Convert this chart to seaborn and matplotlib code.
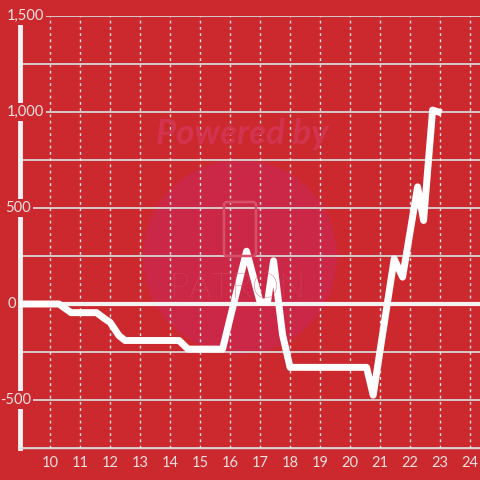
import matplotlib
matplotlib.use("Agg")
import matplotlib.pyplot as plt
import matplotlib.transforms as mtransforms
from matplotlib.patches import Circle, FancyBboxPatch
import numpy as np
import pandas as pd
import seaborn as sns

# values
hours = [9.0, 10.3, 10.7, 11.55, 11.85, 12.0, 12.3, 12.5, 14.3, 14.6, 15.75,
         16.55, 17.0, 17.25, 17.45, 17.75, 18.0, 20.55, 20.77, 21.47, 21.75,
         22.25, 22.45, 22.75, 23.05]
balance = [0, 0, -45, -45, -80, -95, -165, -190, -190, -235, -235,
           275, 10, 10, 225, -160, -330, -330, -475, 235, 140,
           610, 435, 1010, 995]
x_ticks = list(range(10, 25))
y_ticks = [1500, 1000, 500, 0, -500]
y_tick_labels = ["1,500", "1,000", "500", "0", "-500"]

bg = "#cc292e"
fg = "#f2f2f2"
W = 480.0

sns.set_style("white")
plt.rcParams["font.family"] = ["Lato", "DejaVu Sans"]

fig = plt.figure(figsize=(4.8, 4.8), dpi=100, facecolor=bg)
ax = fig.add_axes([20/W, 32/W, 460/W, 432/W])
ax.set_facecolor(bg)
ax.set_xlim(9, 24.33)
ax.set_ylim(-750, 1500)

# watermark
ax.add_patch(Circle((240/W, 1-257/W), 97/W, transform=fig.transFigure,
                    color="#cb2847", zorder=0.5, lw=0))
fig.patches.append(FancyBboxPatch((224/W, 1-256/W), 32/W, 54/W,
                                  boxstyle="round,pad=0,rounding_size=0.006",
                                  transform=fig.transFigure, fill=False,
                                  edgecolor="#d6506a", lw=1.8, zorder=1))
fig.text(242/W, 1-134/W, "Powered by", color="#d2334f", fontsize=25,
         weight="bold", style="italic", ha="center", va="center", zorder=1)
fig.text(238/W, 1-288/W, "PATRON", color="#d44b63", fontsize=25,
         weight="light", ha="center", va="center", zorder=1)

# grid
for v in np.arange(-750, 1501, 250):
    if v != 0:
        ax.axhline(v, color="#d8d4d4", lw=1.3, zorder=1)
for xv in x_ticks:
    ax.axvline(xv, color="#f0e6e6", lw=1, ls=(0, (2, 2.5)), zorder=1)
ax.axhline(0, color=fg, lw=3, zorder=2)

df = pd.DataFrame({"hour": hours, "balance": balance})
sns.lineplot(data=df, x="hour", y="balance", ax=ax, color="white", lw=5,
             zorder=3, solid_joinstyle="round", solid_capstyle="butt")

for s in ["top", "right"]:
    ax.spines[s].set_visible(False)
ax.spines["left"].set_color(fg)
ax.spines["left"].set_linewidth(3.5)
ax.spines["left"].set_bounds(-750, 1460)
ax.spines["bottom"].set_color("#d8d4d4")
ax.spines["bottom"].set_linewidth(1)

ax.set_xticks(x_ticks)
ax.set_xticklabels([str(t) for t in x_ticks])
ax.set_yticks([])
ax.tick_params(axis="x", length=0, colors="#f0e0e0", labelsize=10.5, pad=6)
ax.set_xlabel("")
ax.set_ylabel("")

# y labels sit over the axis line with a background patch, right edges as in the reference
right_edges = [44, 44, 31, 16, 31]
trans = mtransforms.blended_transform_factory(fig.transFigure, ax.transData)
for v, lab, xr in zip(y_ticks, y_tick_labels, right_edges):
    t = ax.text(xr/W, v, lab, color="#f0e0e0", fontsize=10.5, ha="right",
                va="center", zorder=5, transform=trans,
                bbox=dict(facecolor=bg, edgecolor="none", pad=1.2))
    t.set_clip_on(False)

fig.savefig("out.png", dpi=100, facecolor=bg)
